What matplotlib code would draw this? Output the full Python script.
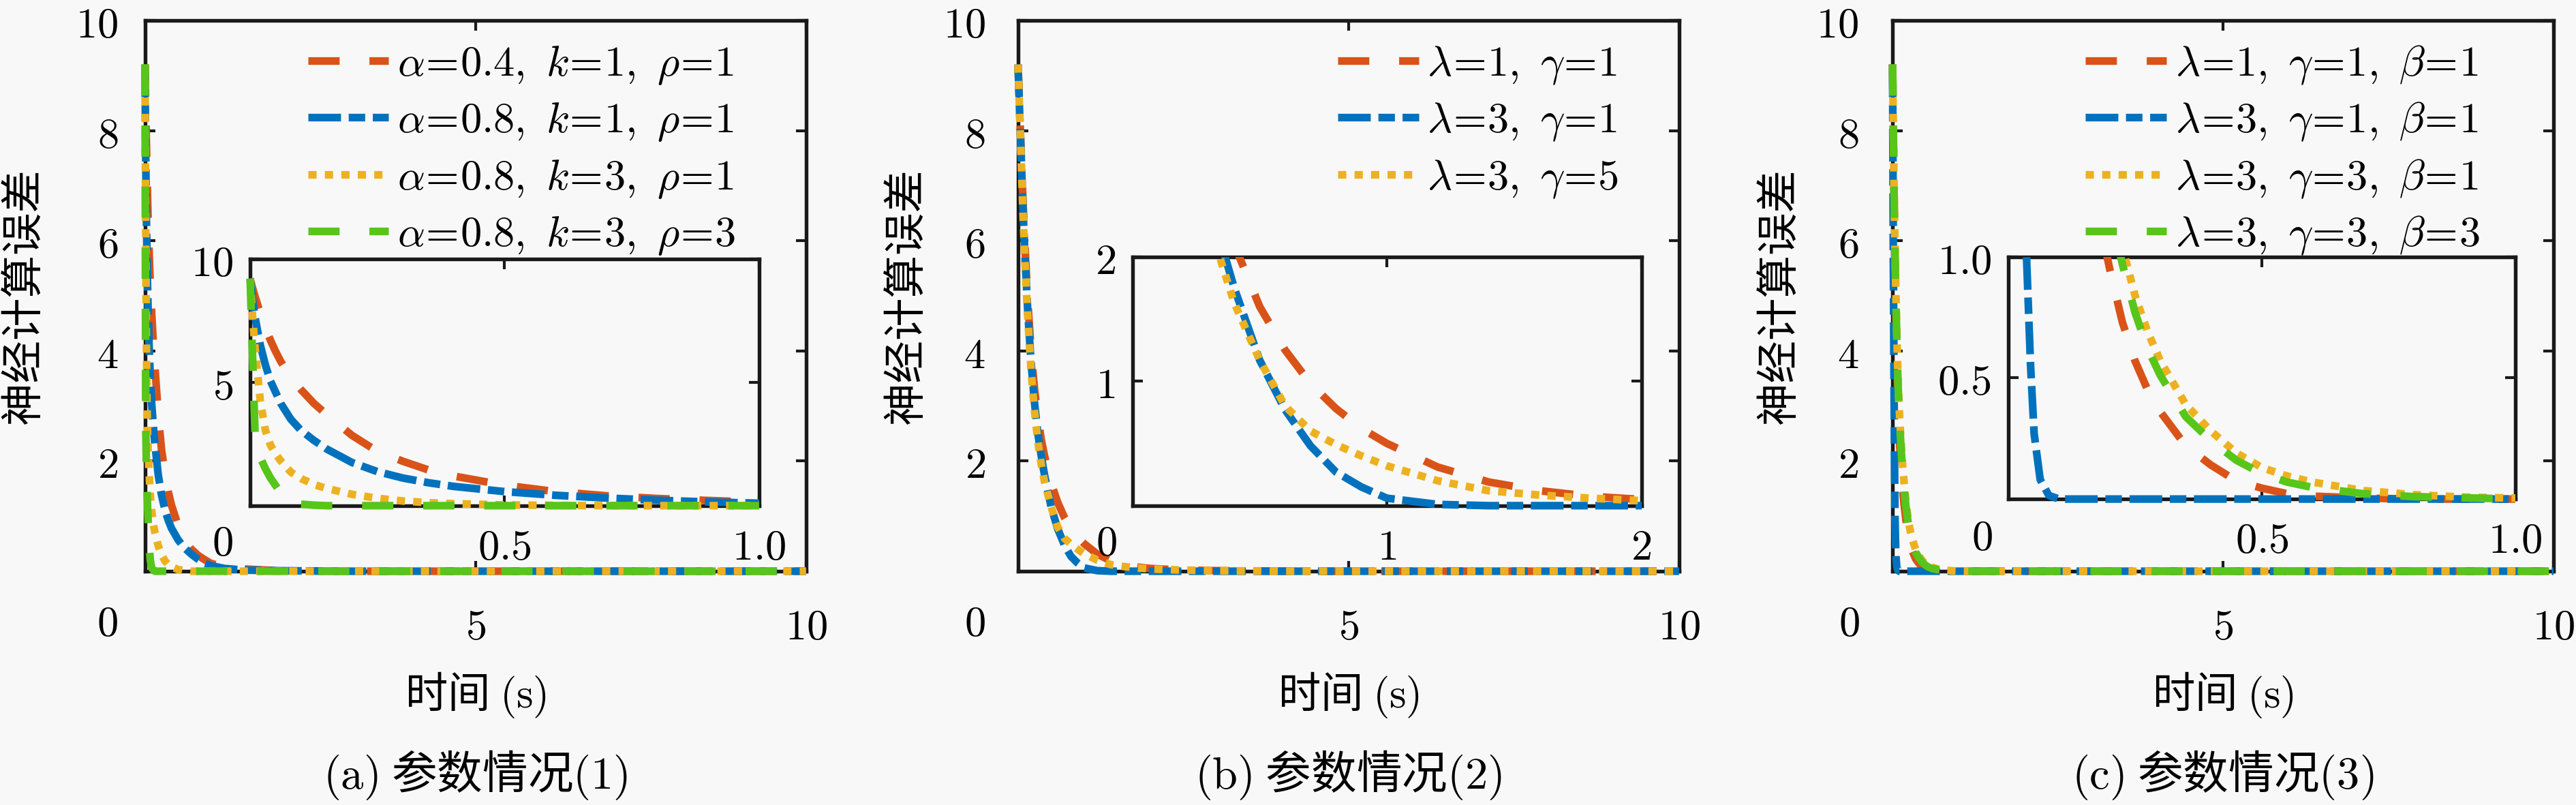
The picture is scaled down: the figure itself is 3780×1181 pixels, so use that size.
import numpy as np
import matplotlib
matplotlib.use("Agg")
import matplotlib.pyplot as plt
from matplotlib.patches import Rectangle

plt.rcParams['font.family'] = ['Noto Sans CJK SC', 'DejaVu Sans']
plt.rcParams['mathtext.fontset'] = 'cm'
plt.rcParams['lines.scale_dashes'] = False
plt.rcParams['axes.unicode_minus'] = False

# ---- data ----
# (a) parameter case 1
t_a = [0, 0.005, 0.01, 0.02, 0.03, 0.04, 0.05, 0.06, 0.08, 0.1, 0.125, 0.15, 0.2, 0.25,
       0.3, 0.35, 0.4, 0.5, 0.6, 0.7, 0.8, 0.9, 1.0, 1.2, 1.5, 2.0, 3.0, 5.0, 10.0]
err_a_red = [9.2, 8.8, 8.45, 7.8, 7.2, 6.7, 6.25, 5.85, 5.2, 4.7, 4.15, 3.7, 2.85, 2.2,
             1.8, 1.45, 1.2, 0.83, 0.57, 0.4, 0.29, 0.21, 0.14, 0.08, 0.04, 0.01, 0, 0, 0]
err_a_blue = [9.2, 8.3, 7.6, 6.5, 5.7, 5.05, 4.6, 4.15, 3.5, 3.05, 2.65, 2.3, 1.75, 1.38,
              1.12, 0.93, 0.78, 0.57, 0.42, 0.31, 0.22, 0.15, 0.1, 0.05, 0.02, 0.01, 0, 0, 0]
err_a_orange = [9.2, 7.6, 6.3, 4.25, 3.05, 2.45, 2.1, 1.82, 1.36, 1.1, 0.86, 0.7, 0.46, 0.3,
                0.19, 0.12, 0.08, 0.03, 0.01, 0, 0, 0, 0, 0, 0, 0, 0, 0, 0]
err_a_green = [9.2, 5.9, 2.7, 1.95, 1.5, 1.12, 0.82, 0.52, 0.2, 0.06, 0.02, 0, 0, 0,
               0, 0, 0, 0, 0, 0, 0, 0, 0, 0, 0, 0, 0, 0, 0]
labels_a = [r"$\alpha\!=\!0.4,\ k\!=\!1,\ \rho\!=\!1$",
            r"$\alpha\!=\!0.8,\ k\!=\!1,\ \rho\!=\!1$",
            r"$\alpha\!=\!0.8,\ k\!=\!3,\ \rho\!=\!1$",
            r"$\alpha\!=\!0.8,\ k\!=\!3,\ \rho\!=\!3$"]

# (b) parameter case 2
t_b = [0, 0.025, 0.05, 0.075, 0.1, 0.15, 0.2, 0.25, 0.3, 0.35, 0.4, 0.5, 0.6, 0.7, 0.8,
       0.9, 1.0, 1.2, 1.4, 1.6, 1.8, 2.0, 2.5, 3.0, 4.0, 10.0]
err_b_red = [9.2, 8.35, 7.5, 6.7, 6.0, 4.85, 3.95, 3.3, 2.8, 2.4, 2.1, 1.6, 1.25, 0.98, 0.78,
             0.62, 0.5, 0.31, 0.19, 0.12, 0.075, 0.05, 0.02, 0.01, 0, 0]
err_b_blue = [9.2, 8.3, 7.45, 6.6, 5.85, 4.65, 3.75, 3.05, 2.5, 2.1, 1.75, 1.17, 0.77, 0.48, 0.27,
              0.15, 0.06, 0.01, 0, 0, 0, 0, 0, 0, 0, 0]
err_b_orange = [9.2, 8.3, 7.4, 6.5, 5.75, 4.55, 3.6, 2.9, 2.35, 1.95, 1.63, 1.17, 0.8, 0.6, 0.49,
                0.4, 0.32, 0.2, 0.12, 0.085, 0.06, 0.04, 0.02, 0.01, 0, 0]
labels_b = [r"$\lambda\!=\!1,\ \gamma\!=\!1$",
            r"$\lambda\!=\!3,\ \gamma\!=\!1$",
            r"$\lambda\!=\!3,\ \gamma\!=\!5$"]

# (c) parameter case 3
t_c = [0, 0.01, 0.02, 0.03, 0.036, 0.044, 0.051, 0.063, 0.08, 0.1, 0.125, 0.15, 0.175, 0.2,
       0.225, 0.25, 0.275, 0.3, 0.35, 0.4, 0.45, 0.5, 0.55, 0.6, 0.7, 0.8, 0.9, 1.0, 1.5, 10.0]
err_c_red = [9.2, 8.1, 7.0, 6.05, 5.6, 5.05, 4.6, 3.95, 3.1, 2.45, 1.9, 1.5, 1.2, 0.95,
             0.73, 0.57, 0.45, 0.36, 0.22, 0.14, 0.075, 0.045, 0.022, 0.012, 0.004, 0, 0, 0, 0, 0]
err_c_blue = [9.2, 6.0, 3.8, 1.9, 1.0, 0.55, 0.27, 0.08, 0.015, 0, 0, 0, 0, 0,
              0, 0, 0, 0, 0, 0, 0, 0, 0, 0, 0, 0, 0, 0, 0, 0]
err_c_orange = [9.2, 8.2, 7.2, 6.3, 5.9, 5.4, 5.0, 4.35, 3.6, 2.95, 2.4, 1.95, 1.6, 1.3,
                1.04, 0.84, 0.69, 0.57, 0.39, 0.28, 0.19, 0.13, 0.095, 0.07, 0.035, 0.018, 0.008, 0.004, 0, 0]
err_c_green = [9.2, 8.2, 7.1, 6.2, 5.8, 5.3, 4.9, 4.25, 3.5, 2.85, 2.3, 1.85, 1.5, 1.2,
               0.97, 0.77, 0.62, 0.51, 0.34, 0.24, 0.16, 0.105, 0.07, 0.048, 0.022, 0.01, 0.005, 0, 0, 0]
labels_c = [r"$\lambda\!=\!1,\ \gamma\!=\!1,\ \beta\!=\!1$",
            r"$\lambda\!=\!3,\ \gamma\!=\!1,\ \beta\!=\!1$",
            r"$\lambda\!=\!3,\ \gamma\!=\!3,\ \beta\!=\!1$",
            r"$\lambda\!=\!3,\ \gamma\!=\!3,\ \beta\!=\!3$"]

captions = [r"$(\mathrm{a})$ 参数情况$(1)$", r"$(\mathrm{b})$ 参数情况$(2)$", r"$(\mathrm{c})$ 参数情况$(3)$"]

# ---- styles ----
BG = "#f8f8f8"
C_RED, C_BLUE, C_ORANGE, C_GREEN = "#D95319", "#0072BD", "#EDB120", "#58C51A"
LS_DASH = (0, (11, 10.5))
LS_DASHDOT = (0, (11.5, 2.7, 5.8, 2.7))
LS_DOT = (0, (2.9, 2.9))
LW = 2.7
FS = 15

styles = {
    "red": dict(color=C_RED, linestyle=LS_DASH),
    "blue": dict(color=C_BLUE, linestyle=LS_DASHDOT),
    "orange": dict(color=C_ORANGE, linestyle=LS_DOT),
    "green": dict(color=C_GREEN, linestyle=LS_DASH),
}

panels = [
    dict(t=t_a, series=[("red", err_a_red), ("blue", err_a_blue), ("orange", err_a_orange), ("green", err_a_green)],
         labels=labels_a, left=0.0563, inset=[0.159, 0.119, 0.770, 0.448], ixlim=(0, 1), iylim=(0, 10),
         ixt=[0.5, 1.0], ixl=["$0.5$", "$1.0$"], iyt=[5, 10], iyl=["$5$", "$10$"],
         leg=(0.893, 0.962), ypad=9.5, zx=-0.057, ylab=-0.182, iz=(-0.054, -0.152)),
    dict(t=t_b, series=[("red", err_b_red), ("blue", err_b_blue), ("orange", err_b_orange)],
         labels=labels_b, left=0.3952, inset=[0.173, 0.119, 0.770, 0.452], ixlim=(0, 2), iylim=(0, 2),
         ixt=[1, 2], ixl=["$1$", "$2$"], iyt=[1, 2], iyl=["$1$", "$2$"],
         leg=(0.909, 0.962), ypad=11.5, zx=-0.065, ylab=-0.168, iz=(-0.051, -0.152)),
    dict(t=t_c, series=[("red", err_c_red), ("blue", err_c_blue), ("orange", err_c_orange), ("green", err_c_green)],
         labels=labels_c, left=0.7347, inset=[0.175, 0.131, 0.767, 0.440], ixlim=(0, 1), iylim=(0, 1),
         ixt=[0.5, 1.0], ixl=["$0.5$", "$1.0$"], iyt=[0.5, 1.0], iyl=["$0.5$", "$1.0$"],
         leg=(0.888, 0.962), ypad=12, zx=-0.066, ylab=-0.17, iz=(-0.052, -0.16)),
]

fig = plt.figure(figsize=(12.6, 3.937), dpi=300, facecolor=BG)


def style_axes(ax, pad_x, pad_y):
    ax.set_facecolor(BG)
    for s in ax.spines.values():
        s.set_linewidth(1.3)
        s.set_color("#1a1a1a")
    ax.tick_params(direction="in", top=True, right=True, length=3.5, width=1.0,
                   labelsize=FS, color="#1a1a1a")
    ax.tick_params(axis="x", pad=pad_x)
    ax.tick_params(axis="y", pad=pad_y)


for p, cap in zip(panels, captions):
    ax = fig.add_axes([p["left"], 0.2904, 0.2566, 0.6842])
    style_axes(ax, 12, p["ypad"])
    ax.set_xlim(0, 10)
    ax.set_ylim(0, 10)
    ax.set_xticks([5, 10], labels=["$5$", "$10$"])
    ax.set_yticks([2, 4, 6, 8, 10], labels=["$2$", "$4$", "$6$", "$8$", "$10$"])

    handles = []
    for (name, vals), lab in zip(p["series"], p["labels"]):
        ln, = ax.plot(p["t"], vals, lw=LW, clip_on=False, zorder=3, label=lab, **styles[name])
        handles.append(ln)

    ax.text(p["zx"], -0.095, "$0$", transform=ax.transAxes, ha="center", va="center", fontsize=FS)
    ax.text(p["ylab"], 0.5, "神经计算误差", transform=ax.transAxes, rotation=90,
            ha="center", va="center", fontsize=FS)
    ax.text(0.5, -0.225, r"时间 $(\mathrm{s})$", transform=ax.transAxes,
            ha="center", va="center", fontsize=FS)
    ax.text(0.5, -0.37, cap, transform=ax.transAxes, ha="center", va="center", fontsize=16)

    ax.legend(handles=handles, loc="upper right", bbox_to_anchor=p["leg"], frameon=False,
              fontsize=FS, handlelength=1.9, handletextpad=0.2, labelspacing=0.28,
              borderpad=0, borderaxespad=0)

    # zoomed inset
    axin = ax.inset_axes(p["inset"])
    style_axes(axin, 7, 6)
    axin.set_xlim(*p["ixlim"])
    axin.set_ylim(*p["iylim"])
    axin.set_xticks(p["ixt"], labels=p["ixl"])
    axin.set_yticks(p["iyt"], labels=p["iyl"])
    clip = Rectangle((-0.03, -0.06), 1.03, 1.06, transform=axin.transAxes)
    for name, vals in p["series"]:
        ln, = axin.plot(p["t"], vals, lw=LW, zorder=3, **styles[name])
        ln.set_clip_path(clip)
    axin.text(p["iz"][0], p["iz"][1], "$0$", transform=axin.transAxes,
              ha="center", va="center", fontsize=FS)

fig.savefig("out.png", dpi=300, facecolor=BG)
